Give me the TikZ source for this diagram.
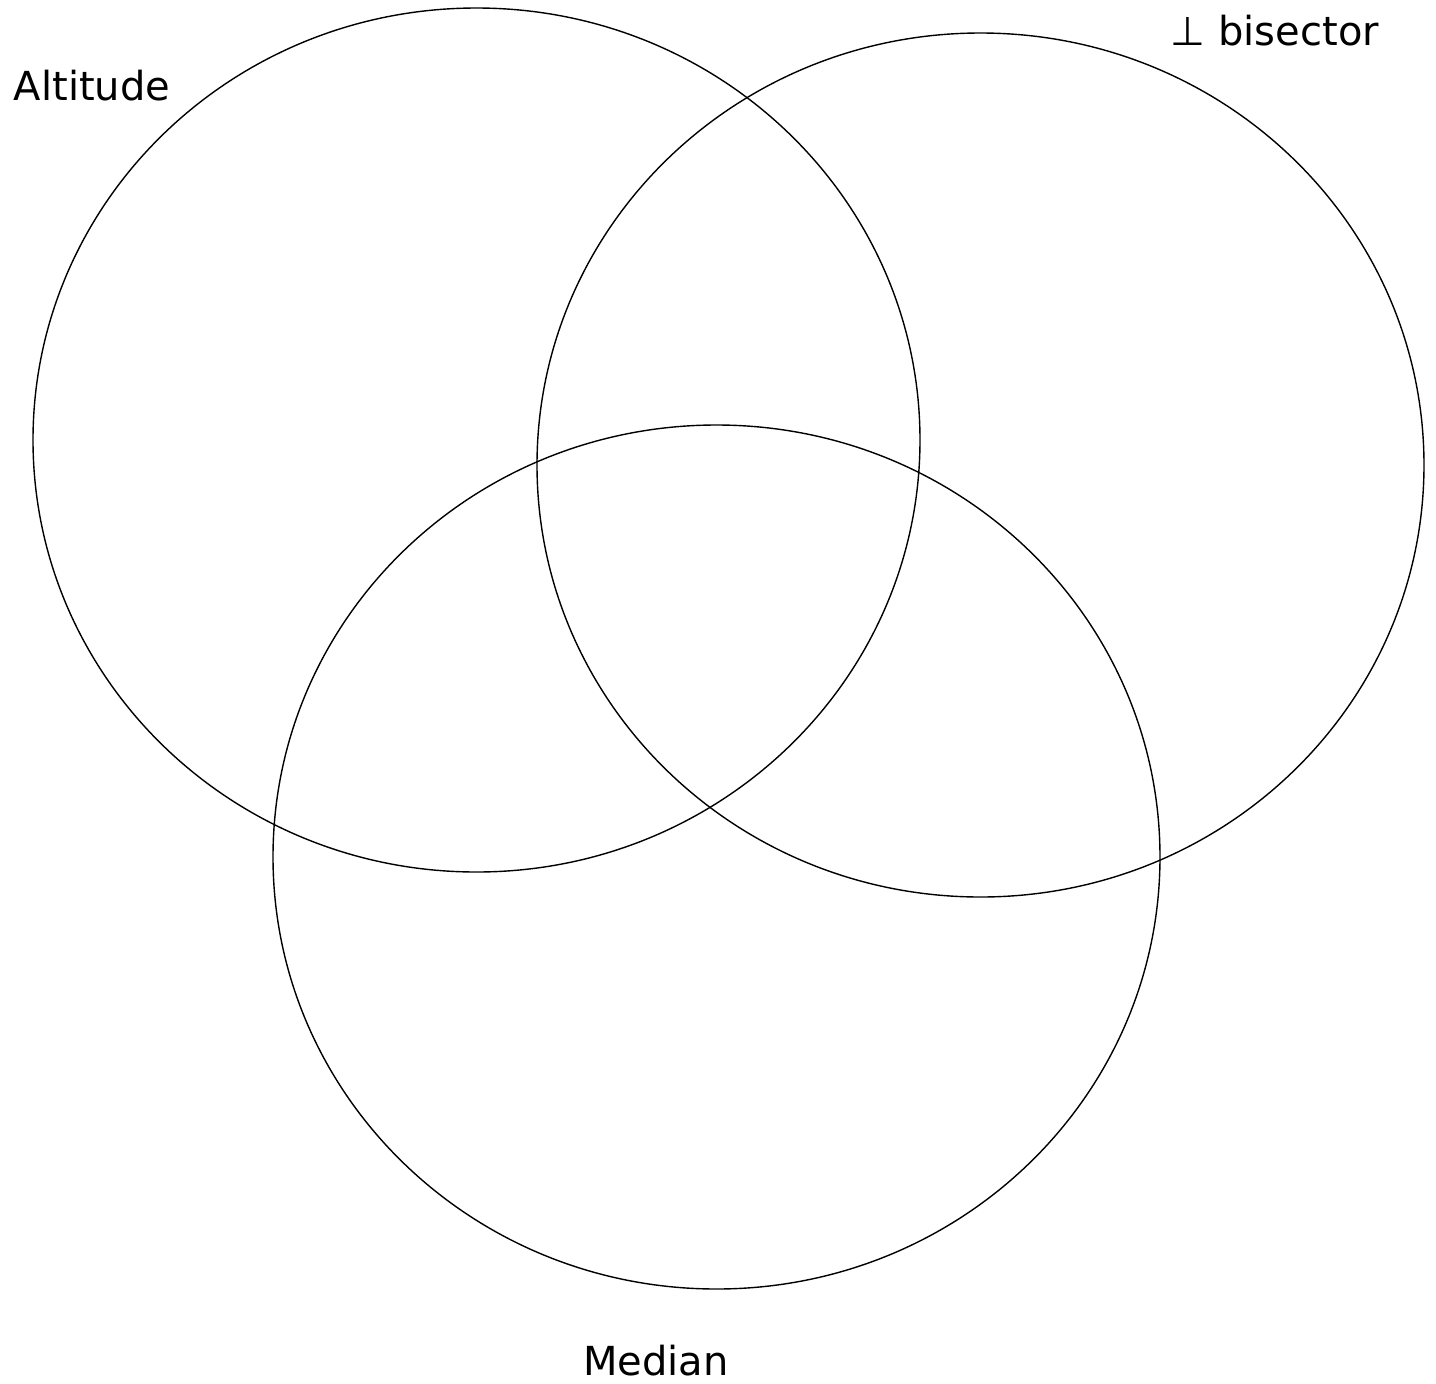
\documentclass[tikz,border=0pt]{standalone}
\usepackage{fontspec}
\setmainfont{DejaVu Sans}
\begin{document}
\begin{tikzpicture}[
  x=0.5pt,y=-0.5pt,
  set/.style={draw,line width=0.7pt},
  lbl/.style={anchor=base,font=\fontsize{20}{24}\selectfont,inner sep=0pt}
]
  \useasboundingbox (0,0) rectangle (1436,1383);
  % the three sets
  \draw[set] (476.5,440) ellipse [x radius=443.5,y radius=432];
  \draw[set] (980.5,465) ellipse [x radius=443.5,y radius=432];
  \draw[set] (716.5,857) ellipse [x radius=443.5,y radius=432];
  % labels
  \node[lbl] (alt) at (92,100) {Altitude};
  \node[lbl] (bis) at (1275,45) {⊥ bisector};
  \node[lbl] (med) at (656,1375) {Median};
\end{tikzpicture}
\end{document}
